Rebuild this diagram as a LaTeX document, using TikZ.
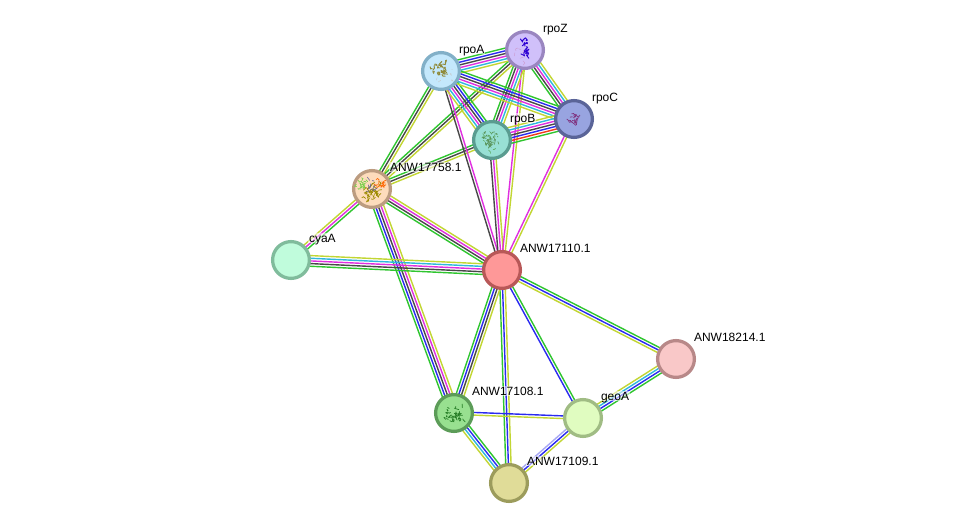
\documentclass[tikz,border=0pt]{standalone}
\usepackage{fontspec}
\setmainfont{Liberation Sans}
\usetikzlibrary{calc,backgrounds}

\definecolor{lgreen}{HTML}{2FC52F}
\definecolor{lblue}{HTML}{2A2AF0}
\definecolor{lmag}{HTML}{E02FE0}
\definecolor{ldark}{HTML}{484848}
\definecolor{lcyan}{HTML}{2FB8DC}
\definecolor{lyel}{HTML}{C2D633}
\definecolor{lred}{HTML}{F03A1A}
\definecolor{llav}{HTML}{A8A8F4}

\tikzset{
  protein/.style n args={2}{circle,minimum size=27.6pt,inner sep=0pt,line width=2.45pt,fill={rgb,255:#1},draw={rgb,255:#2}},
  tag/.style={anchor=west,inner sep=0.6pt,text height=6.4pt,text depth=0pt,font=\fontsize{9pt}{10pt}\selectfont,fill=white,fill opacity=0.55,text opacity=1},
  link/.style={line width=1.05pt}
}

% parallel evidence lines between two proteins, listed from the left of a to b
\newcommand{\bundle}[3]{%
  \foreach \col [count=\k] in {#3} {\xdef\nlines{\k}}%
  \foreach \col [count=\k] in {#3} {%
    \pgfmathsetmacro\off{((\nlines+1)/2-\k)*2.0}%
    \draw[link,color=\col] ($(#1.center)!\off pt!90:(#2.center)$) -- ($(#2.center)!\off pt!-90:(#1.center)$);
  }%
}
% little random strands standing for a folded chain
\newcommand{\strands}[8]{% x, y, half width, half height, colour, count, seed, line width
  \pgfmathsetseed{#7}%
  \foreach \k in {1,...,#6} {%
    \pgfmathsetmacro\ax{#1+rand*#3}%
    \pgfmathsetmacro\ay{#2+rand*#4}%
    \pgfmathsetmacro\bx{\ax+rand*2.6}%
    \pgfmathsetmacro\by{\ay+rand*2.6}%
    \pgfmathsetmacro\cx{\bx+rand*2.6}%
    \pgfmathsetmacro\cy{\by+rand*2.6}%
    \draw[color=#5,line width=#8,line cap=round] (\ax,\ay) .. controls (\bx,\by) .. (\cx,\cy);
  }%
}

\begin{document}
\begin{tikzpicture}[x=0.75pt,y=-0.75pt]
\useasboundingbox (0,0) rectangle (976,528);

% proteins
\node[protein={red,196;green,232;blue,252}{red,130;green,176;blue,200}] (rpoA) at (441,71) {};
\node[protein={red,208;green,192;blue,250}{red,154;green,134;blue,192}] (rpoZ) at (525,50) {};
\node[protein={red,152;green,164;blue,224}{red,90;green,100;blue,152}] (rpoC) at (574,119) {};
\node[protein={red,152;green,224;blue,212}{red,90;green,156;blue,144}] (rpoB) at (492,140) {};
\node[protein={red,253;green,220;blue,188}{red,188;green,156;blue,128}] (n758) at (372,189) {};
\node[protein={red,192;green,252;blue,220}{red,128;green,188;blue,156}] (cyaA) at (291,260) {};
\node[protein={red,254;green,152;blue,152}{red,184;green,88;blue,88}] (n110) at (502,270) {};
\node[protein={red,249;green,200;blue,200}{red,184;green,136;blue,136}] (n214) at (676,359) {};
\node[protein={red,152;green,224;blue,144}{red,92;green,156;blue,88}] (n108) at (454,413) {};
\node[protein={red,224;green,252;blue,192}{red,160;green,188;blue,132}] (geoA) at (583,418) {};
\node[protein={red,224;green,220;blue,152}{red,156;green,156;blue,92}] (n109) at (509,483) {};

% evidence lines behind the proteins
\begin{pgfonlayer}{background}
  \fill[white] (0,0) rectangle (976,528);
  \bundle{n758}{rpoA}{lgreen,ldark,lyel}
  \bundle{n758}{rpoZ}{lgreen,ldark,lyel}
  \bundle{n758}{rpoB}{lgreen,ldark,lyel}
  \bundle{cyaA}{n758}{lyel,lmag,lgreen}
  \bundle{n758}{n110}{lyel,lmag,ldark,lgreen}
  \bundle{n758}{n108}{lyel,lmag,ldark,lblue,lgreen}
  \bundle{cyaA}{n110}{lyel,lcyan,lmag,ldark,lgreen}
  \bundle{rpoA}{n110}{lmag,ldark}
  \bundle{rpoB}{n110}{lyel,lmag,ldark}
  \bundle{rpoZ}{n110}{lyel,lmag}
  \bundle{rpoC}{n110}{lyel,lmag}
  \bundle{rpoA}{rpoZ}{lgreen,lblue,ldark,lmag,lcyan,lyel}
  \bundle{rpoA}{rpoB}{lgreen,lblue,ldark,lmag,lcyan,lyel}
  \bundle{rpoB}{rpoZ}{lgreen,ldark,lmag,lcyan,lyel}
  \bundle{rpoC}{rpoZ}{lgreen,ldark,lmag,lcyan,lyel}
  \bundle{rpoA}{rpoC}{lgreen,lblue,ldark,lmag,lcyan,lyel}
  \bundle{rpoB}{rpoC}{lyel,lcyan,lmag,ldark,lblue,lred,lgreen}
  \bundle{n110}{n214}{lgreen,lblue,lyel}
  \bundle{n110}{geoA}{lgreen,lblue}
  \bundle{n110}{n109}{lyel,lblue,lgreen}
  \bundle{n110}{n108}{lyel,ldark,lblue,lgreen}
  \bundle{n108}{geoA}{lblue,lyel}
  \bundle{n108}{n109}{lgreen,lblue,lcyan,lyel}
  \bundle{n214}{geoA}{lgreen,lblue,lcyan,lyel}
  \bundle{geoA}{n109}{lyel,lblue,llav}
\end{pgfonlayer}

% folded chains inside the proteins
\strands{443}{75}{9}{6}{gray!45}{5}{12}{0.3pt}
\strands{439}{69}{7}{7}{olive!60!gray}{28}{11}{0.7pt}
\strands{522}{54}{8}{8}{violet!40}{6}{22}{0.3pt}
\strands{525}{47}{2.5}{9}{blue!65!violet}{22}{21}{0.7pt}
\strands{574}{119}{4}{4}{violet!60!gray}{20}{31}{0.55pt}
\strands{491}{142}{9}{9}{green!30!gray}{18}{42}{0.35pt}
\strands{491}{139}{7}{8}{green!35!black!65}{24}{41}{0.5pt}
\strands{362}{184}{6}{5}{green!50!olive!70}{16}{51}{0.5pt}
\strands{381}{184}{5}{4}{orange!80!red}{14}{52}{0.5pt}
\strands{372}{192}{7}{8}{olive!85!orange}{34}{53}{0.55pt}
\strands{371}{186}{3}{6}{gray!80!blue}{10}{54}{0.4pt}
\strands{454}{413}{9}{7}{green!40!black!85}{34}{61}{0.55pt}

% protein names
\node[tag] (tA) at (458,49) {rpoA};
\node[tag] (tZ) at (542,28) {rpoZ};
\node[tag] (tC) at (591,97) {rpoC};
\node[tag] (tB) at (509,118) {rpoB};
\node[tag] (t758) at (389,167) {ANW17758.1};
\node[tag] (tcya) at (308,238) {cyaA};
\node[tag] (t110) at (519,248) {ANW17110.1};
\node[tag] (t214) at (693,337) {ANW18214.1};
\node[tag] (t108) at (471,391) {ANW17108.1};
\node[tag] (tgeo) at (600,396) {geoA};
\node[tag] (t109) at (526,461) {ANW17109.1};
\end{tikzpicture}
\end{document}
